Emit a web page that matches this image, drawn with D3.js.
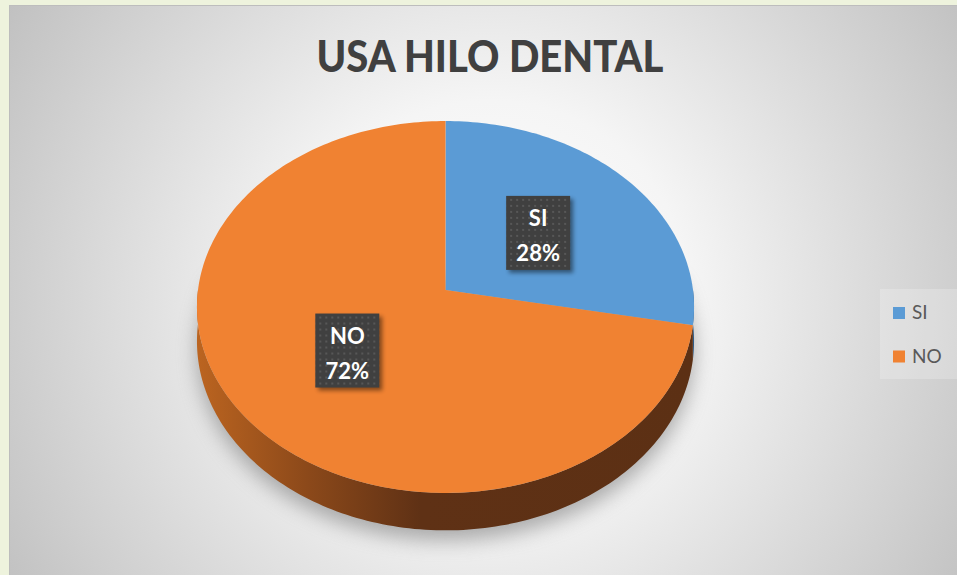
<!DOCTYPE html>
<html>
<head>
<meta charset="utf-8">
<script src="https://cdn.jsdelivr.net/npm/d3@7"></script>
<style>
  body { margin: 0; background: #eef3dd; }
  svg { display: block; }
</style>
</head>
<body>
<script>
// chart data
var categories = ["SI", "NO"];
var values = [28, 72];
var title = "USA HILO DENTAL";

var w = 957, h = 575;

var svg = d3.select("body").append("svg")
  .attr("width", w)
  .attr("height", h);

var defs = svg.append("defs");

// background gradient
var bg = defs.append("radialGradient")
  .attr("id", "bg")
  .attr("gradientUnits", "userSpaceOnUse")
  .attr("cx", 490).attr("cy", 300).attr("r", 570);
bg.append("stop").attr("offset", 0).attr("stop-color", "#ffffff");
bg.append("stop").attr("offset", 0.35).attr("stop-color", "#f5f5f5");
bg.append("stop").attr("offset", 1).attr("stop-color", "#c0c0c0");

// side of the orange slice
var side = defs.append("linearGradient")
  .attr("id", "sideNO")
  .attr("gradientUnits", "userSpaceOnUse")
  .attr("x1", 198).attr("x2", 693).attr("y1", 0).attr("y2", 0);
side.append("stop").attr("offset", 0).attr("stop-color", "#bb6420");
side.append("stop").attr("offset", 0.22).attr("stop-color", "#8c491a");
side.append("stop").attr("offset", 0.45).attr("stop-color", "#5f3115");
side.append("stop").attr("offset", 1).attr("stop-color", "#5c3014");

var dots = defs.append("pattern")
  .attr("id", "dots")
  .attr("patternUnits", "userSpaceOnUse")
  .attr("width", 6).attr("height", 6);
dots.append("rect").attr("width", 6).attr("height", 6).attr("fill", "#404040");
dots.append("rect").attr("x", 2).attr("y", 2).attr("width", 2).attr("height", 2).attr("fill", "#575757");

defs.append("filter").attr("id", "blur").attr("x", "-20%").attr("y", "-20%").attr("width", "140%").attr("height", "140%")
  .append("feGaussianBlur").attr("stdDeviation", 10);
defs.append("filter").attr("id", "boxShadow").attr("x", "-20%").attr("y", "-20%").attr("width", "150%").attr("height", "150%")
  .append("feGaussianBlur").attr("stdDeviation", 2);

// chart area
svg.append("rect")
  .attr("x", 9.5).attr("y", 5.5)
  .attr("width", w - 9).attr("height", h - 5)
  .attr("fill", "url(#bg)")
  .attr("stroke", "#bdbdbd");

svg.append("text")
  .attr("x", 490).attr("y", 72)
  .attr("text-anchor", "middle")
  .attr("font-family", "Lato, 'Open Sans', sans-serif")
  .attr("font-weight", 900)
  .attr("font-size", 44)
  .attr("fill", "#404040")
  .attr("textLength", 347)
  .attr("lengthAdjust", "spacingAndGlyphs")
  .text(title);

// 3D pie projection
var cx = 445.5, cy = 290, rx = 247.5, ry = 184.4, k = -0.0914, depth = 34;

function proj(a, r, down) {
  var u = r * Math.sin(a), v = -r * Math.cos(a);
  var s = 1 / (1 + k * v);
  return [cx + rx * u * s, cy + ry * v * s + (down ? depth * s : 0)];
}

function arcPoints(a0, a1, down) {
  var n = Math.max(2, Math.ceil(Math.abs(a1 - a0) / 0.02));
  return d3.range(n + 1).map(function(i) {
    return proj(a0 + (a1 - a0) * i / n, 1, down);
  });
}

var color = d3.scaleOrdinal().domain(categories).range(["#5b9bd5", "#f08232"]);
var sideColor = d3.scaleOrdinal().domain(categories).range(["#2f5b86", "url(#sideNO)"]);

var pie = d3.pie().sort(null).value(function(d, i) { return values[i]; });
var arcs = pie(categories);
var line = d3.line();

// soft shadow under the pie
var shadowPts = arcPoints(Math.PI / 2 - 0.3, Math.PI * 1.5 + 0.3, true);
svg.append("path")
  .attr("d", line(shadowPts.map(function(p) { return [p[0], p[1] + 10]; })) + "Z")
  .attr("fill", "#7a7a7a")
  .attr("opacity", 0.6)
  .attr("filter", "url(#blur)");

// sides (front half only)
svg.selectAll("path.side")
  .data(arcs)
  .enter()
  .append("path")
  .attr("class", "side")
  .attr("d", function(d) {
    var a0 = Math.max(d.startAngle, Math.PI / 2);
    var a1 = Math.min(d.endAngle, Math.PI * 1.5);
    if (a1 <= a0) return null;
    var top = arcPoints(a0, a1, false);
    var bot = arcPoints(a1, a0, true);
    return line(top.concat(bot)) + "Z";
  })
  .attr("fill", function(d) { return sideColor(d.data); });

// top faces
svg.selectAll("path.top")
  .data(arcs)
  .enter()
  .append("path")
  .attr("class", "top")
  .attr("d", function(d) {
    return line([proj(0, 0, false)].concat(arcPoints(d.startAngle, d.endAngle, false))) + "Z";
  })
  .attr("fill", function(d) { return color(d.data); });

// data labels
var labels = svg.selectAll("g.label")
  .data(arcs)
  .enter()
  .append("g")
  .attr("class", "label")
  .attr("transform", function(d) {
    var p = proj((d.startAngle + d.endAngle) / 2, 0.5, false);
    return "translate(" + p[0] + "," + p[1] + ")";
  });

labels.append("rect")
  .attr("x", -29).attr("y", -34)
  .attr("width", 64).attr("height", 74)
  .attr("fill", "#000")
  .attr("opacity", 0.45)
  .attr("filter", "url(#boxShadow)");

labels.append("rect")
  .attr("x", -32).attr("y", -37)
  .attr("width", 64).attr("height", 74)
  .attr("fill", "url(#dots)");

labels.append("text")
  .attr("text-anchor", "middle")
  .attr("y", -7)
  .attr("font-family", "Lato, 'Open Sans', sans-serif")
  .attr("font-weight", "bold")
  .attr("font-size", 22)
  .attr("fill", "#ffffff")
  .text(function(d) { return d.data; });

labels.append("text")
  .attr("text-anchor", "middle")
  .attr("y", 28)
  .attr("font-family", "Lato, 'Open Sans', sans-serif")
  .attr("font-weight", "bold")
  .attr("font-size", 22)
  .attr("fill", "#ffffff")
  .text(function(d) { return d.value + "%"; });

// legend
svg.append("rect")
  .attr("x", 880).attr("y", 289)
  .attr("width", 77).attr("height", 90)
  .attr("fill", "#ffffff")
  .attr("opacity", 0.22);

var legend = svg.selectAll("g.legend")
  .data(categories)
  .enter()
  .append("g")
  .attr("class", "legend")
  .attr("transform", function(d, i) { return "translate(893," + (307 + i * 43.5) + ")"; });

legend.append("rect")
  .attr("width", 12).attr("height", 12)
  .attr("fill", function(d) { return color(d); });

legend.append("text")
  .attr("x", 19).attr("y", 12)
  .attr("font-family", "Lato, 'Open Sans', sans-serif")
  .attr("font-size", 19)
  .attr("fill", "#595959")
  .text(function(d) { return d; });
</script>
</body>
</html>
